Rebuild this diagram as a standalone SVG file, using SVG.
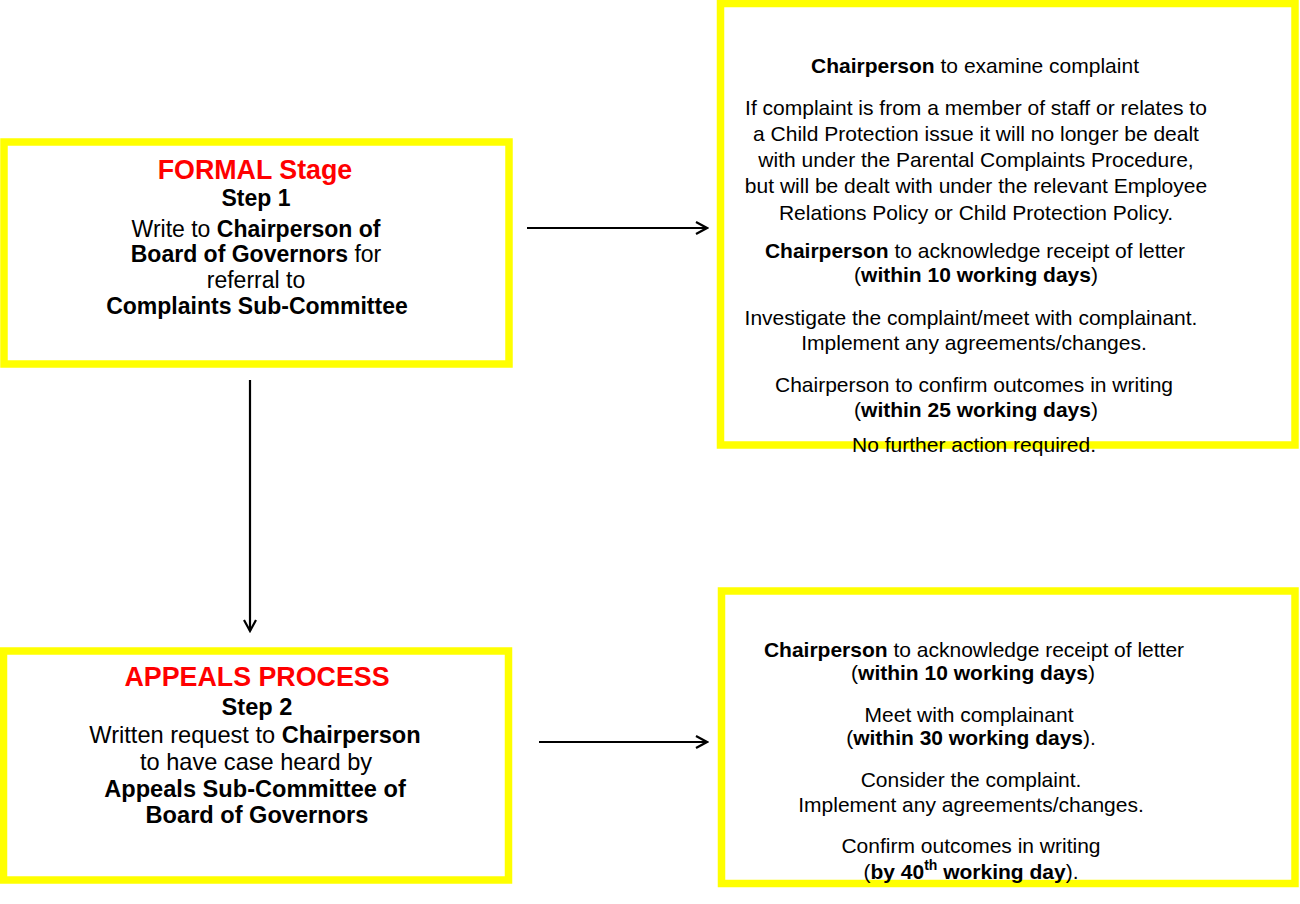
<svg xmlns="http://www.w3.org/2000/svg" width="1300" height="904" viewBox="0 0 1300 904">
<style>
.box{fill:#ffffff;stroke:#ffff00;stroke-width:7.5}
text{font-family:"Liberation Sans",Arial,sans-serif;fill:#000;text-anchor:middle}
.t{font-size:26.8px;font-weight:bold;fill:#ff0000}
.l{font-size:23px}
.l2{font-size:23.6px}
.s{font-size:21px}
.b{font-weight:bold}
.c{fill:none;stroke:#000;stroke-width:2.2}
</style>
<defs>
<marker id="ah" markerWidth="14" markerHeight="14" refX="12" refY="7" orient="auto" markerUnits="userSpaceOnUse">
<path d="M1,1 L12,7 L1,13" fill="none" stroke="#000" stroke-width="2.2"/>
</marker>
</defs>
<rect width="1300" height="904" fill="#ffffff"/>
<g id="connectors">
<line class="c" x1="527" y1="228" x2="707" y2="228" marker-end="url(#ah)"/>
<line class="c" x1="250" y1="380" x2="250" y2="631" marker-end="url(#ah)"/>
<line class="c" x1="539" y1="742" x2="707" y2="742" marker-end="url(#ah)"/>
</g>
<g id="formal">
<rect class="box" x="4" y="142" width="505" height="222"/>
<text class="t" x="255" y="179">FORMAL Stage</text>
<text class="l b" x="256" y="206">Step 1</text>
<text class="l" x="256" y="237">Write to <tspan class="b">Chairperson of</tspan></text>
<text class="l" x="256" y="262"><tspan class="b">Board of Governors</tspan> for</text>
<text class="l" x="256" y="288">referral to</text>
<text class="l b" x="257" y="314">Complaints Sub-Committee</text>
</g>
<g id="examine">
<rect class="box" x="720.5" y="3.5" width="574.5" height="441.5"/>
<text class="s" x="975" y="73"><tspan class="b">Chairperson</tspan> to examine complaint</text>
<text class="s" x="976" y="115">If complaint is from a member of staff or relates to</text>
<text class="s" x="976" y="141">a Child Protection issue it will no longer be dealt</text>
<text class="s" x="976" y="167">with under the Parental Complaints Procedure,</text>
<text class="s" x="976" y="193">but will be dealt with under the relevant Employee</text>
<text class="s" x="976" y="220">Relations Policy or Child Protection Policy.</text>
<text class="s" x="975" y="258"><tspan class="b">Chairperson</tspan> to acknowledge receipt of letter</text>
<text class="s" x="976" y="282">(<tspan class="b">within 10 working days</tspan>)</text>
<text class="s" x="971" y="325">Investigate the complaint/meet with complainant.</text>
<text class="s" x="974" y="350">Implement any agreements/changes.</text>
<text class="s" x="974" y="392">Chairperson to confirm outcomes in writing</text>
<text class="s" x="976" y="417">(<tspan class="b">within 25 working days</tspan>)</text>
<text class="s" x="974" y="452">No further action required.</text>
</g>
<g id="appeals">
<rect class="box" x="3.5" y="651" width="505" height="229"/>
<text class="t" x="257" y="686">APPEALS PROCESS</text>
<text class="l2 b" x="257" y="715">Step 2</text>
<text class="l2" x="255" y="743">Written request to <tspan class="b">Chairperson</tspan></text>
<text class="l2" x="256" y="770">to have case heard by</text>
<text class="l2 b" x="255" y="797">Appeals Sub-Committee of</text>
<text class="l2 b" x="257" y="823">Board of Governors</text>
</g>
<g id="appeal-actions">
<rect class="box" x="721.5" y="591" width="573.5" height="292.5"/>
<text class="s" x="974" y="657"><tspan class="b">Chairperson</tspan> to acknowledge receipt of letter</text>
<text class="s" x="973" y="680">(<tspan class="b">within 10 working days</tspan>)</text>
<text class="s" x="969" y="722">Meet with complainant</text>
<text class="s" x="971" y="745">(<tspan class="b">within 30 working days</tspan>).</text>
<text class="s" x="971" y="787">Consider the complaint.</text>
<text class="s" x="971" y="812">Implement any agreements/changes.</text>
<text class="s" x="971" y="853">Confirm outcomes in writing</text>
<text class="s" x="971" y="879">(<tspan class="b">by 40<tspan font-size="14" dy="-9">th</tspan><tspan dy="9"> working day</tspan></tspan>).</text>
</g>
</svg>
